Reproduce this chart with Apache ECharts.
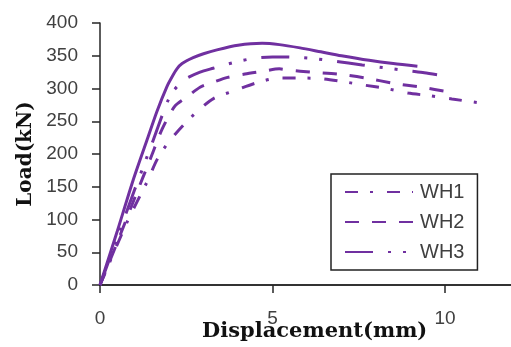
<!DOCTYPE html>
<html><head><meta charset="utf-8">
<script src="https://cdn.jsdelivr.net/npm/echarts@6/dist/echarts.min.js"></script>
<style>html,body{margin:0;padding:0;background:#fff}#c{width:511px;height:347px}</style>
</head><body><div id="c"></div>
<script>
// Data
const refX = [0,0.5,0.96,1.36,1.65,1.94,2.09,2.23,2.38,2.7,3.0,3.39,4.0,4.7,5.2,5.8,6.4,7.0,7.8,8.5,9.2];
const refY = [0,82,160,221,265,303,318,330,338,347,353,359,366,369,367,362,356,350,343,338,334];
const wh3X = [0,0.5,1.0,1.5,1.94,2.12,2.46,2.9,3.28,3.68,4.14,4.6,5.0,5.4,5.86,6.3,6.75,7.2,7.6,8.03,8.5,8.93,9.4,9.77];
const wh3Y = [0,72,145,215,278,296,314,325,331,337,343,347,348,348,347,345,342,339,336,333,330,327,324,321];
const wh2X = [0,0.5,1.0,1.5,1.8,2.17,2.52,2.9,3.3,3.7,4.2,4.7,5.2,5.5,6.1,6.9,7.7,8.5,9.3,10.1,10.3];
const wh2Y = [0,65,132,198,238,273,287,302,310,317,322,326,330,328,325,322,316,308,302,295,293];
const wh1X = [0,0.81,1.36,1.65,1.97,2.4,2.84,3.3,3.97,4.5,5.16,5.8,6.43,7.1,7.68,8.3,8.93,9.55,10.2,11.0];
const wh1Y = [0,99,157,191,217,243,266,285,298,308,316,316,315,310,305,300,293,289,284,278];
const seriesNames = ['WH1','WH2','WH3'];
const xTicks = [0,5,10];
const yTicks = [0,50,100,150,200,250,300,350,400];
const xTitle = 'Displacement(mm)';
const yTitle = 'Load(kN)';

const pair = (xs, ys) => xs.map((x, i) => [x, ys[i]]);
const purple = '#7030A0';
const chart = echarts.init(document.getElementById('c'));
const mk = (name, data, type) => ({
  name, type: 'line', data, symbol: 'none', smooth: 0.25,
  lineStyle: { color: purple, width: 3, type, cap: 'butt' },
  itemStyle: { color: purple }
});
chart.setOption({
  animation: false,
  grid: { left: 100, top: 23, width: 414, height: 262, outerBoundsMode: 'none', containLabel: false },
  xAxis: [{
    type: 'value', min: 0, max: 12, interval: 5,
    axisLine: { onZero: false, lineStyle: { color: '#262626', width: 1.5 } },
    axisTick: { length: 8, lineStyle: { color: '#262626', width: 1.5 } },
    axisLabel: { margin: 24, color: '#404040', fontSize: 19, fontFamily: 'Liberation Sans',
      showMaxLabel: false, hideOverlap: false,
      formatter: v => xTicks.includes(v) ? String(v) : '' },
    splitLine: { show: false }
  }, {
    type: 'value', position: 'top', min: 0, max: 12,
    axisLine: { show: true, lineStyle: { color: '#262626', width: 1.5 } },
    axisTick: { show: false }, axisLabel: { show: false }, splitLine: { show: false }
  }],
  yAxis: {
    type: 'value', min: 0, max: 400, interval: 50,
    axisLine: { show: true, lineStyle: { color: '#262626', width: 1.5 } },
    axisTick: { show: true, length: 8, lineStyle: { color: '#262626', width: 1.5 } },
    axisLabel: { margin: 22, color: '#404040', fontSize: 19, fontFamily: 'Liberation Sans',
      formatter: v => yTicks.includes(v) ? String(v) : '' },
    splitLine: { show: false },
    name: yTitle, nameLocation: 'middle', nameGap: 63, nameRotate: 90,
    nameTextStyle: { fontFamily: 'DejaVu Serif', fontWeight: 'bold', fontSize: 20, color: '#111' }
  },
  graphic: [{
    type: 'text', left: 202, top: 321, silent: true,
    style: { text: xTitle, fill: '#111', font: 'bold 21px "DejaVu Serif"' }
  }],
  legend: {
    data: seriesNames, orient: 'vertical', left: 331, top: 174,
    itemWidth: 68, itemHeight: 14, itemGap: 10, padding: [8, 13, 8, 13],
    borderColor: '#222', borderWidth: 1.5,
    itemStyle: { opacity: 0 },
    textStyle: { color: '#404040', fontSize: 20, fontFamily: 'Liberation Sans', padding: [0, 0, 0, 2] }
  },
  series: [
    mk('ref', pair(refX, refY), 'solid'),
    mk(seriesNames[2], pair(wh3X, wh3Y), [28, 15, 3, 12, 3, 15]),
    mk(seriesNames[1], pair(wh2X, wh2Y), [14, 13]),
    mk(seriesNames[0], pair(wh1X, wh1Y), [13, 12, 3, 14])
  ]
});
</script></body></html>
